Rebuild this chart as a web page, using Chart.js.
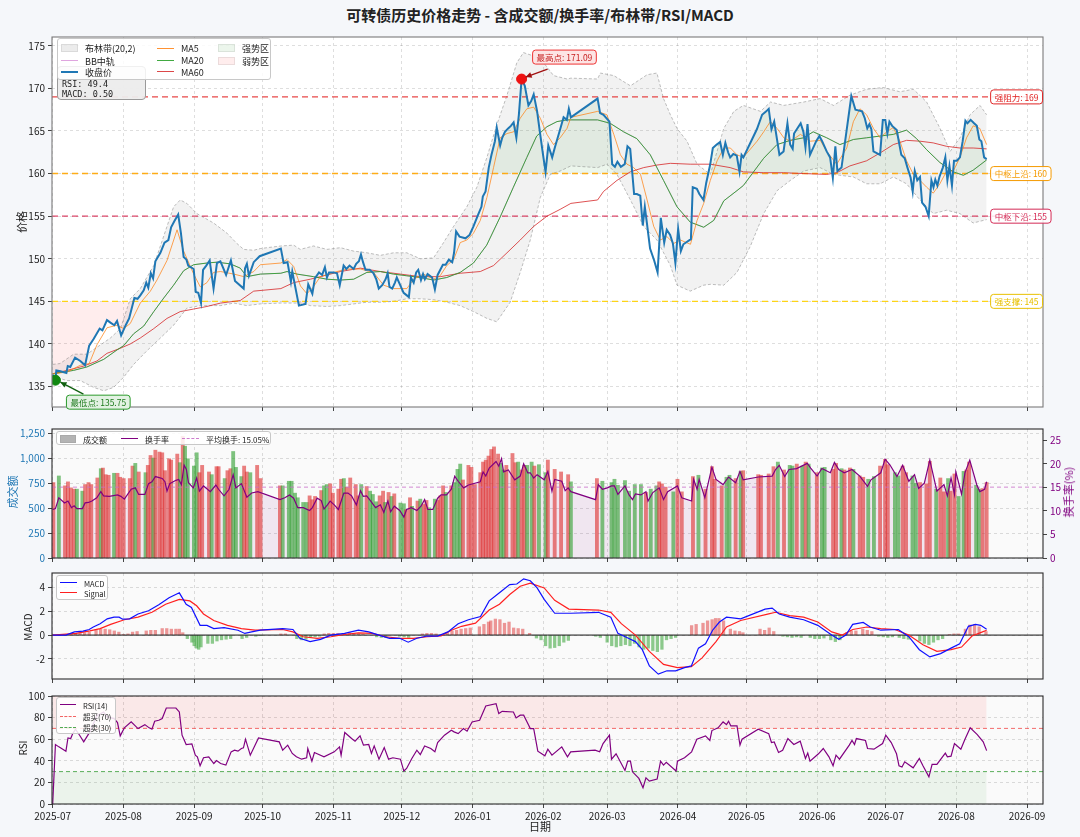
<!DOCTYPE html>
<html>
<head>
<meta charset="utf-8">
<title>可转债历史价格走势</title>
<script src="https://cdn.jsdelivr.net/npm/chart.js@4.4.1/dist/chart.umd.min.js"></script>
<style>
  html, body { margin: 0; padding: 0; background: #f5f7fa; }
  #page { position: relative; width: 1080px; height: 837px; overflow: hidden;
          font-family: "Noto Sans CJK SC", "DejaVu Sans", sans-serif; color: #222; }
  canvas.panel { position: absolute; left: 0; }
  .title { position: absolute; left: 0; top: 4px; width: 1080px; text-align: center;
           font-size: 15px; font-weight: bold; color: #222; }
  .ylab { position: absolute; font-size: 11px; white-space: nowrap;
          transform: translate(-50%, -50%) rotate(-90deg); }
  .xlab { position: absolute; font-size: 11px; transform: translate(-50%, -50%); }
  .legend { position: absolute; background: rgba(255,255,255,0.85); border: 1px solid #c8c8c8;
            border-radius: 3px; box-sizing: border-box; }
  .legend .sw { position: absolute; }
  .legend .tx { position: absolute; white-space: nowrap; transform: translateY(-50%); }
  .info { position: absolute; left: 57px; top: 66px; width: 89px; height: 34px; box-sizing: border-box;
          background: rgba(236,236,236,0.95); border: 1px solid #9a9a9a; border-radius: 4px;
          font-family: "DejaVu Sans Mono", monospace; font-size: 8.5px; line-height: 9.5px; padding: 13px 0 0 4px; }
</style>
</head>
<body>
<div id="page">
  <div class="title">可转债历史价格走势 - 含成交额/换手率/布林带/RSI/MACD</div>
  <canvas id="cPrice" class="panel" style="top:28px" width="1080" height="388"></canvas>
  <canvas id="cVol" class="panel" style="top:420px" width="1080" height="147"></canvas>
  <canvas id="cMacd" class="panel" style="top:564px" width="1080" height="124"></canvas>
  <canvas id="cRsi" class="panel" style="top:687px" width="1080" height="147"></canvas>
  <div class="ylab" style="left:21px;top:222px">价格</div>
  <div class="ylab" style="left:12px;top:492px;color:#1f77b4">成交额</div>
  <div class="ylab" style="left:1068px;top:492px;color:#800080">换手率(%)</div>
  <div class="ylab" style="left:27px;top:627px;font-size:10px">MACD</div>
  <div class="ylab" style="left:22px;top:748px;font-size:10px">RSI</div>
  <div class="xlab" style="left:540px;top:826px">日期</div>
  <div class="info" id="info"></div>
  <div class="legend" id="lgPrice" style="left:57px;top:38px;width:214px;height:42px;font-size:9px"></div>
  <div class="legend" id="lgVol" style="left:56px;top:431px;width:215px;height:14px;font-size:8px"></div>
  <div class="legend" id="lgMacd" style="left:56px;top:575px;width:52px;height:25px;font-size:7.5px"></div>
  <div class="legend" id="lgRsi" style="left:56px;top:697px;width:60px;height:37px;font-size:7.5px"></div>
</div>
<script>
// ---- axis (days counted from 2025-07-01) ----
const monthDays = [0, 31, 62, 92, 123, 153, 184, 215, 243, 274, 304, 335, 365, 396, 427];
const monthLabels = ['2025-07','2025-08','2025-09','2025-10','2025-11','2025-12','2026-01',
                     '2026-02','2026-03','2026-04','2026-05','2026-06','2026-07','2026-08','2026-09'];
const X_MIN = -0.3, X_MAX = 434;

// ---- price panel ----
const closeSeries = [
  [0,136.4],[1.2,135.75],[1.6,136.9],[3.4,136.8],[6.0,136.6],[6.6,137.4],[7.7,137.3],[9.8,138.4],[12.1,138.0],[14.2,137.5],
  [16.0,139.8],[18.0,140.6],[20.6,141.8],[21.8,141.6],[23.8,142.8],[25.3,142.5],[27.0,142.2],[28.2,142.7],[30.0,141.0],[32.0,142.2],
  [33.5,143.0],[35.8,145.4],[37.2,145.3],[38.4,145.7],[39.9,146.3],[41.0,147.2],[41.9,146.6],[43.0,148.3],[44.0,147.7],[45.0,149.7],
  [47.2,150.7],[49.0,151.9],[50.7,152.2],[51.9,153.7],[53.3,154.4],[55.0,155.2],[56.2,153.0],[57.4,150.2],[58.6,149.9],[59.4,149.2],
  [61.8,148.8],[62.7,146.1],[63.8,146.0],[65.0,144.8],[65.9,148.7],[67.3,149.2],[68.8,149.8],[70.5,146.5],[72.0,149.5],[73.5,149.7],
  [76.0,148.1],[78.1,149.8],[79.9,147.4],[83.7,146.5],[84.3,148.9],[85.1,149.4],[86.0,148.0],[87.2,148.9],[88.1,149.6],[90.7,150.3],
  [100.0,151.2],[101.2,149.5],[102.9,149.6],[104.4,147.3],[105.0,148.5],[107.9,144.5],[110.8,144.7],[112.0,147.0],[113.8,145.9],[114.9,147.7],
  [116.7,148.4],[118.1,148.1],[119.3,149.0],[120.2,147.8],[121.1,148.4],[123.1,148.4],[124.6,148.3],[125.8,146.9],[127.5,149.2],[128.7,148.8],
  [130.1,149.2],[131.9,148.8],[133.0,149.4],[134.2,149.7],[135.1,150.5],[136.0,149.6],[137.1,148.7],[138.9,148.7],[140.6,148.3],[141.8,147.6],
  [142.9,146.5],[144.4,146.9],[145.9,147.6],[146.8,148.3],[147.6,146.7],[148.8,146.5],[150.0,147.2],[150.8,147.8],[152.3,146.9],[153.8,146.0],
  [155.2,145.7],[156.1,145.5],[157.0,147.8],[158.2,147.2],[159.3,148.4],[160.2,148.7],[161.4,147.5],[162.3,148.2],[163.1,147.6],[164.3,148.2],
  [166.3,147.8],[167.5,146.4],[168.7,148.1],[171.0,149.3],[172.2,149.3],[173.6,149.9],[175.1,149.6],[175.9,150.7],[176.8,153.2],[178.3,152.6],
  [180.9,152.4],[182.7,152.8],[184.4,153.8],[186.5,155.2],[187.9,156.1],[188.5,157.3],[189.7,157.9],[191.1,160.7],[192.3,162.2],[193.8,163.8],
  [194.6,165.4],[196.1,163.3],[197.0,164.2],[198.2,164.9],[199.6,165.3],[200.8,165.6],[202.0,166.0],[203.2,164.2],[204.3,166.9],[205.5,171.09],
  [206.9,170.3],[208.5,168.0],[209.7,168.5],[210.8,169.3],[212.3,167.3],[213.4,165.1],[214.9,162.2],[216.0,160.2],[217.2,163.3],[218.9,161.9],
  [220.1,163.1],[222.4,165.2],[223.9,166.6],[225.3,166.3],[226.2,167.6],[227.1,166.6],[238.8,168.8],[239.9,167.1],[241.4,166.9],[244.0,166.1],
  [245.2,161.1],[246.4,160.8],[247.5,161.4],[249.0,160.8],[250.7,161.1],[251.9,163.2],[253.1,162.9],[254.8,157.6],[256.0,157.6],[257.5,157.4],
  [258.6,153.9],[259.5,156.1],[260.4,154.2],[261.8,151.2],[263.6,149.8],[265.1,148.4],[266.5,154.8],[268.0,151.9],[269.1,153.4],[270.6,152.8],
  [271.8,151.8],[272.9,149.5],[274.1,153.5],[275.3,150.9],[276.4,151.7],[279.7,152.3],[280.5,158.4],[282.3,158.2],[283.4,157.6],[285.2,156.9],
  [286.4,158.9],[288.1,161.0],[289.3,163.0],[291.0,163.4],[292.5,163.7],[293.7,162.2],[294.8,163.6],[296.0,162.5],[296.9,161.9],[298.3,162.3],
  [299.8,162.1],[301.0,160.2],[301.9,162.2],[302.7,161.9],[308.6,165.2],[310.9,166.9],[312.7,167.3],[313.8,167.6],[315.0,165.2],[316.2,166.1],
  [318.5,162.2],[320.3,162.6],[322.0,165.9],[323.2,163.4],[324.3,162.9],[324.9,164.7],[327.8,165.9],[329.0,164.9],[329.9,163.1],[330.8,165.8],
  [331.9,162.2],[334.6,163.8],[336.0,164.4],[337.2,163.8],[339.2,162.6],[340.7,161.9],[341.9,159.5],[343.0,163.2],[343.9,160.3],[345.7,160.7],
  [350.0,169.1],[351.8,167.5],[354.7,167.3],[355.9,166.5],[357.0,165.3],[357.9,165.8],[358.8,165.2],[359.7,162.6],[362.6,162.2],[363.8,166.3],
  [364.9,166.3],[365.8,164.7],[366.7,166.1],[367.9,165.6],[369.9,165.1],[370.8,163.8],[371.9,162.2],[373.4,161.8],[374.6,160.7],[376.0,159.5],
  [376.9,157.9],[377.8,160.3],[378.9,159.2],[380.1,159.6],[381.0,156.6],[382.5,156.1],[383.9,155.0],[385.1,159.2],[386.0,158.4],[386.8,159.3],
  [387.7,158.6],[388.6,159.6],[390.1,160.7],[391.2,161.9],[392.1,159.2],[393.0,160.9],[394.1,158.6],[395.0,161.5],[396.2,161.5],[397.6,161.9],
  [398.8,163.8],[400.0,166.2],[400.9,165.9],[402.3,166.3],[403.8,165.9],[405.0,165.6],[406.1,164.0],[407.0,163.8],[408.2,161.9],[409.3,161.7]
];
const ma5Series = [
  [0,136.5],[6.3,136.7],[12.1,137.5],[16,137.7],[19.4,139.9],[23.8,141.9],[28.2,142.2],[31.1,141.8],[34,142.4],[38.4,144.8],
  [42.8,146.2],[45.7,147.5],[50.1,149.8],[54.5,153.4],[57.4,150.9],[61.8,148.2],[64.7,146.7],[67.6,147.2],[70.5,148.4],[73.6,148.5],
  [79.4,148.2],[83.8,147.9],[88.1,148.5],[91,149.3],[100,149.5],[102.7,149.9],[105.6,149.1],[108.6,146.8],[111.4,145.9],[114,146.6],
  [117.3,147.9],[123.1,148.4],[129,148.8],[134.8,148.8],[140.6,148.4],[145,146.9],[149.4,146.5],[155.2,146.5],[158.2,147.6],[162.5,148.2],
  [166.9,147.6],[169.8,148.0],[172.7,149.2],[175.7,149.9],[178.6,151.9],[181.5,152.2],[184.4,153.0],[187.4,154.5],[190.3,157.2],[193.2,160.7],
  [196.1,164.2],[199.1,164.7],[202,164.9],[204.9,166.5],[207.8,167.6],[210.8,167.8],[213.7,166.5],[216.6,164.6],[219.5,163.4],[222.4,164.2],
  [225.4,165.3],[227.1,166.6],[238.8,167.3],[242.9,166.9],[245.9,164.6],[248.8,162.2],[251.7,161.1],[254.6,160.7],[257.6,159.9],[260.5,156.9],
  [263.4,153.8],[266.3,152.2],[269.2,152.6],[272.2,151.8],[275.1,152.2],[279.5,151.7],[282.4,154.5],[285.3,156.5],[288.2,159.2],[291.2,161.5],
  [294.1,163.0],[297,163.0],[299.9,162.2],[302.7,161.9],[308.7,163.8],[311.6,164.9],[314.5,166.1],[317.5,165.3],[320.4,164.2],[323.3,163.8],
  [327.7,164.6],[332.1,163.8],[336.4,163.9],[339.2,162.6],[343.6,161.1],[348,163.0],[350.9,166.1],[353.8,167.6],[356.7,166.9],[359.7,165.3],
  [362.6,164.2],[365.5,164.9],[368.4,165.4],[371.3,163.8],[374.2,161.5],[377.2,159.9],[380.1,159.2],[383,158.4],[385.9,157.7],[388.8,158.8],
  [391.8,160.3],[394.7,160.3],[397.6,161.9],[400.5,164.2],[403.4,165.6],[406.3,165.3],[409.3,163.4]
];
const ma20Series = [
  [0,136.5],[9.2,136.9],[15,137.3],[22.4,138.2],[28.2,139.3],[31.1,139.8],[35.5,141.2],[39.9,142.1],[44.3,143.8],[48.7,145.4],
  [53,146.9],[57.4,148.6],[61.8,149.3],[67.6,149.5],[72,149.6],[77.8,149.4],[82.2,148.9],[85.1,147.9],[91,148.2],[100,148.3],
  [102.7,148.5],[107.1,148.2],[114.3,147.9],[120.2,147.6],[126.1,147.5],[131.9,147.6],[137.7,148.4],[143.6,148.5],[149.4,148.2],[155.2,148.0],
  [161.1,147.8],[166.9,147.5],[172.7,147.8],[178.6,148.4],[184.4,149.5],[190.2,151.6],[196.1,154.9],[201.9,158.4],[207.8,161.9],[212.1,164.4],
  [216.6,165.5],[221,166.1],[225.3,166.3],[227.1,166.3],[238.8,166.3],[244.3,165.9],[250.2,164.9],[256,164.1],[261.9,162.2],[267.7,159.2],
  [273.6,156.1],[279.4,154.3],[285.3,153.7],[289.7,154.5],[294.1,156.8],[299.9,158.0],[302.7,158.6],[311.6,161.8],[317.4,163.4],[323.3,163.9],
  [329.1,164.2],[333.3,164.9],[339.2,164.2],[345,163.4],[350.9,164.0],[356.7,164.2],[362.5,164.4],[368.4,164.6],[374.2,165.1],[378.6,164.1],
  [383,162.8],[388.8,161.3],[394.7,160.2],[399.1,159.8],[403.4,160.4],[409.3,161.6]
];
const ma60Series = [
  [0,136.5],[6.3,136.9],[13.6,137.4],[19.4,138.0],[23.8,138.9],[29.7,139.5],[34,140.0],[38.4,140.7],[44.3,141.8],[50.1,143.0],
  [55.9,143.8],[61.8,144.1],[67.6,144.4],[73.6,144.8],[82.2,145.1],[88.1,146.2],[100,146.5],[105.6,147.2],[112.9,147.6],[117.3,147.9],
  [126.1,148.5],[134.8,148.9],[143.6,148.5],[152.4,148.2],[161.1,147.9],[169.9,147.9],[178.6,148.3],[187.4,148.5],[193.2,149.2],[199.1,150.7],
  [204.9,152.2],[210.8,153.8],[216.6,155.0],[222.4,155.8],[227.1,156.5],[238.8,156.9],[241.4,157.9],[247.3,159.2],[253.1,160.2],[259,160.7],
  [264.8,161.0],[270.7,161.2],[279.4,161.1],[288.2,161.1],[296.9,160.7],[302.7,160.2],[311.6,160.1],[320.3,160.1],[329.1,160.0],[339.2,159.9],
  [343.6,160.1],[349.4,160.9],[356.7,161.5],[362.5,162.4],[368.4,163.4],[374.2,163.9],[380.1,163.8],[385.9,163.6],[391.7,163.2],[397.6,163.0],
  [403.4,163.0],[409.3,162.9]
];
const bollUpperSeries = [
  [0,137.6],[3.2,137.7],[9.2,138.8],[15,138.8],[21,139.9],[25.3,140.7],[29.7,141.8],[34,145.3],[38.4,146.5],[44.3,149.2],
  [50.1,153.8],[53,156.1],[55.9,156.9],[58.8,156.5],[63.2,155.3],[70.5,154.2],[76.4,153.0],[80.7,151.8],[83.7,151.1],[88.1,151.0],
  [91,151.2],[100,151.5],[105.6,151.6],[108.5,151.1],[114.3,151.5],[120.2,151.1],[126.1,151.3],[131.9,150.9],[137.7,150.7],[143.6,150.4],
  [149.4,150.7],[155.2,150.7],[161.1,150.0],[166.9,150.1],[171.3,151.9],[175.7,153.8],[181.5,156.1],[185.9,158.4],[190.3,161.9],[194.6,165.7],
  [199.1,169.2],[203.4,173.0],[206.3,174.2],[210.8,173.8],[215.2,173.0],[219.5,171.5],[225.4,171.1],[227.1,171.2],[238.8,171.1],[240,171.8],
  [245.9,171.5],[253.2,170.3],[260.5,171.6],[264.8,171.8],[267.7,168.8],[270.7,166.9],[273.6,165.3],[278,163.8],[282.4,161.1],[288.2,159.9],
  [294.1,165.3],[298.5,167.3],[302.7,168.0],[310.2,167.3],[314.6,168.4],[320.4,168.0],[329.2,168.4],[336.3,168.8],[342.2,168.0],[349.4,169.2],
  [356.7,169.9],[364,170.1],[371.3,169.6],[377.2,169.9],[383,168.4],[388.9,165.3],[393.3,162.6],[397.6,164.2],[402,166.9],[406.4,168.0],
  [409.3,166.9]
];
const bollLowerSeries = [
  [0,136.2],[6.3,135.7],[12.1,135.7],[18,134.9],[22.4,134.5],[26.7,134.9],[31.1,136.1],[35.5,137.6],[41.3,139.2],[47.2,140.7],
  [53,142.2],[58.8,144.2],[64.7,144.5],[73.6,144.5],[79.4,144.8],[85.1,144.5],[91,144.7],[100,144.8],[108.6,144.8],[112.9,144.5],
  [120.2,144.4],[126.1,144.5],[131.9,144.7],[137.7,144.9],[143.6,144.9],[149.4,145.0],[155.2,145.3],[161.1,145.3],[166.9,145.2],[172.7,144.9],
  [178.6,144.5],[184.4,143.8],[190.3,143.0],[194.6,142.6],[200.5,144.9],[204.9,148.4],[209.3,152.2],[213.7,157.2],[218.1,159.9],[222.4,160.3],
  [227.1,160.9],[238.8,160.7],[242.9,161.1],[247.3,159.9],[253.2,156.9],[259,153.8],[264.8,152.2],[270.7,149.2],[273.6,146.9],[279.4,146.2],
  [285.3,146.9],[288.2,147.0],[294.1,146.9],[299.9,148.4],[305.8,151.5],[311.6,155.3],[317.5,158.0],[323.3,159.2],[329.2,160.3],[336.3,160.7],
  [342.2,159.9],[350.9,159.6],[356.7,158.8],[362.6,158.8],[368.4,159.6],[374.2,158.8],[380.1,156.9],[385.9,155.3],[391.8,155.7],[397.6,155.3],
  [403.4,154.2],[409.3,154.6]
];
const levels = [
  { name: '强阻力', value: 169, line: 'rgba(228,40,40,0.85)', text: '#e02424' },
  { name: '中枢上沿', value: 160, line: 'rgba(255,165,0,0.9)', text: '#f59a00' },
  { name: '中枢下沿', value: 155, line: 'rgba(214,40,80,0.85)', text: '#d42a55' },
  { name: '强支撑', value: 145, line: 'rgba(255,210,0,0.9)', text: '#e8c000' }
];
const STRONG_LEVEL = 160, WEAK_LEVEL = 145;

// ---- volume / turnover panel: [day, amount, up(1)/down(0)] ----
const volumeBars = [
  [0.3,755,1],[2.7,821,0],[5.4,722,1],[6.7,762,1],[8.0,702,1],[9.4,689,1],[10.6,689,0],[13.0,669,0],[14.2,735,1],[15.7,755,1],
  [16.9,735,1],[19.6,801,1],[21.1,894,0],[22.0,900,1],[23.2,834,1],[24.5,828,1],[26.9,848,0],[28.4,848,1],[29.6,808,1],[31.1,795,1],
  [33.8,795,1],[35.0,920,1],[36.2,947,0],[37.7,861,1],[40.7,854,0],[41.7,927,1],[42.9,1026,1],[44.1,1000,0],[45.0,1079,1],[46.8,1060,1],
  [48.0,1053,1],[49.2,874,1],[51.0,993,1],[51.9,980,1],[54.6,1040,1],[55.8,954,0],[57.0,1218,1],[58.0,1119,0],[59.2,993,0],[61.9,920,0],
  [63.1,1053,0],[64.3,854,1],[65.5,927,1],[68.5,861,1],[69.7,834,0],[71.8,914,1],[72.7,914,1],[75.4,795,0],[76.6,874,1],[77.9,894,1],
  [79.1,1066,0],[80.3,907,0],[82.7,815,0],[83.9,920,1],[85.1,861,1],[86.6,854,0],[89.6,927,1],[91.1,795,1],
  [99.6,722,1],[100.8,722,0],[103.5,768,0],[104.7,768,0],[106.2,649,0],[107.4,603,0],[109.8,556,0],[111.3,556,0],[112.6,622,1],[113.8,583,1],
  [115.0,616,1],[117.7,675,1],[118.9,722,0],[120.1,735,0],[121.6,742,1],[122.8,649,1],[125.2,689,1],[126.4,788,1],[127.6,795,0],[128.8,709,1],
  [130.4,801,1],[132.8,735,1],[134.0,622,1],[135.2,735,0],[137.6,715,1],[139.1,669,0],[140.3,636,0],[141.8,563,0],[143.3,622,1],[144.8,669,1],
  [145.7,556,0],[147.2,656,1],[148.5,616,0],[149.7,642,1],[152.4,550,0],[153.9,543,0],[154.8,483,1],[156.6,603,1],[157.5,517,0],[159.9,570,1],
  [161.1,589,0],[162.6,536,1],[163.8,576,1],[165.0,503,0],[167.5,589,0],[168.7,576,1],[169.9,622,1],[171.1,722,1],[172.3,656,0],[174.7,722,1],
  [175.9,755,0],[177.4,887,0],[178.6,940,0],[179.8,781,1],[182.2,927,1],[183.5,907,1],[185.0,735,1],[187.4,854,1],[188.6,960,1],[189.8,980,1],
  [191.0,1020,1],[192.2,1086,1],[193.4,1112,1],[195.2,1040,1],[196.4,947,0],[197.6,881,0],[198.8,927,1],[201.5,1046,1],[202.8,954,1],[204.0,960,0],
  [205.5,881,1],[206.7,927,1],[207.9,927,0],[209.9,960,0],[211.1,920,1],[213.1,934,0],[216.0,854,0],[217.0,980,1],[220.0,887,1],[222.8,861,1],
  [225.9,834,1],[227.1,762,0],
  [238.5,795,1],[240.9,768,0],[244.9,755,0],[246.2,788,0],[247.7,728,0],[250.8,775,0],[252.6,669,0],[255.1,735,0],[257.8,735,0],[260.0,656,1],
  [262.1,689,0],[264.6,722,0],[265.8,762,1],[267.0,742,1],[268.6,709,1],[272.0,662,0],[273.8,788,1],[275.7,662,1],[280.6,815,1],[283.0,828,0],
  [286.1,689,1],[288.9,914,1],[290.1,788,1],[293.2,722,1],[295.3,808,0],[296.6,828,0],[299.3,795,1],[301.5,867,0],[302.6,874,1],
  [309.2,834,1],[310.4,828,1],[313.8,841,1],[315.9,914,1],[317.8,960,0],[320.5,881,1],[323.0,927,0],[324.2,920,0],[326.1,940,1],[328.5,920,0],
  [330.0,960,1],[331.3,940,0],[334.9,854,1],[337.1,901,0],[338.3,907,0],[342.0,887,1],[343.3,947,1],[345.7,894,0],[347.0,881,1],[349.4,901,1],
  [350.9,887,0],[353.7,821,1],[355.2,808,1],[357.4,788,0],[359.9,815,0],[362.6,920,1],[364.8,987,1],[366.0,934,1],[369.1,854,0],[370.6,821,0],
  [372.5,920,1],[374.0,854,1],[376.8,821,0],[378.3,748,0],[380.1,755,1],[382.9,742,1],[384.4,967,1],[387.2,689,0],[389.0,801,1],[390.6,662,1],
  [392.4,795,0],[393.4,669,1],[395.2,841,1],[397.0,616,0],[399.2,867,0],[400.4,881,1],[401.6,960,1],[404.7,728,0],[405.9,689,0],[407.5,695,1],
  [409.3,755,1]
];
const turnoverSeries = [
  [0.0,10.3],[1.2,10.5],[2.7,12.8],[5.2,11.7],[6.7,12.1],[8.2,10.7],[9.4,11.1],[10.6,10.5],[13.0,10.5],[14.2,11.7],
  [15.7,11.8],[17.2,12.1],[19.3,12.8],[21.1,14.1],[22.3,13.2],[24.8,13.1],[28.4,13.4],[29.9,13.1],[31.4,12.5],[34.4,14.6],
  [36.2,14.9],[37.7,13.5],[40.4,13.5],[42.0,15.8],[43.5,16.2],[45.0,17.3],[48.0,16.9],[49.2,16.2],[50.1,14.2],[51.3,15.8],
  [54.0,16.5],[55.2,16.7],[56.4,15.6],[57.6,19.7],[58.6,18.8],[59.5,16.0],[61.6,14.9],[63.1,17.0],[64.3,14.2],[66.1,15.3],
  [69.1,14.1],[71.5,15.5],[72.7,14.6],[75.1,13.2],[77.3,14.6],[79.1,17.7],[80.3,14.9],[82.7,15.8],[85.1,12.9],[87.2,13.8],
  [89.9,14.1],[99.6,12.4],[101.7,12.8],[103.8,13.4],[105.6,12.7],[107.4,10.7],[109.8,10.7],[112.6,10.1],[113.8,10.7],[115.9,12.7],
  [117.7,12.2],[118.9,10.4],[120.4,11.3],[121.6,12.1],[123.4,11.3],[125.2,10.3],[127.6,13.8],[129.4,13.8],[131.0,13.2],[133.1,11.3],
  [134.9,14.3],[136.1,13.1],[137.6,13.2],[139.4,12.1],[141.5,10.7],[143.6,11.3],[145.1,9.7],[146.9,12.1],[148.1,9.8],[149.7,11.0],
  [152.1,10.1],[153.9,8.7],[155.1,10.3],[157.2,10.7],[159.6,10.1],[161.4,11.0],[163.0,12.4],[164.4,10.3],[166.6,10.3],[168.7,12.7],
  [170.2,13.4],[172.6,13.4],[174.7,14.6],[176.2,17.4],[177.7,16.3],[180.1,14.9],[182.2,15.5],[187.4,16.2],[188.6,18.3],[189.8,17.4],
  [191.3,19.1],[194.3,20.5],[195.5,19.5],[196.7,21.1],[197.6,18.3],[199.7,18.7],[202.5,16.6],[204.9,17.4],[206.4,20.0],[208.2,18.1],
  [209.3,18.1],[210.8,17.0],[212.3,17.7],[215.4,16.6],[217.0,18.4],[218.8,14.2],[220.0,16.7],[223.1,16.3],[224.6,14.3],[225.9,14.9],
  [227.1,14.1],[237.9,12.4],[239.1,15.6],[240.9,14.6],[243.1,14.9],[244.9,15.3],[246.2,15.3],[247.7,13.5],[250.8,15.3],[252.6,13.4],
  [254.1,12.4],[255.4,13.6],[257.8,13.4],[260.0,14.1],[260.9,12.1],[263.0,13.9],[265.8,14.9],[267.7,12.4],[269.5,14.1],[273.8,15.3],
  [275.7,12.8],[280.0,12.1],[280.9,16.7],[282.4,14.6],[283.3,16.7],[285.8,12.8],[288.9,19.3],[290.7,16.7],[293.8,15.6],[296.2,17.2],
  [299.3,16.0],[301.2,18.4],[302.6,16.6],[309.2,17.2],[315.3,17.4],[316.8,18.8],[318.4,19.7],[320.8,17.3],[322.7,18.8],[326.0,19.0],
  [330.7,20.1],[332.2,19.1],[335.0,17.4],[337.1,19.0],[340.8,18.1],[342.6,20.3],[344.5,18.8],[346.9,18.1],[350.3,18.8],[353.7,17.4],
  [357.1,15.2],[358.6,16.6],[362.9,18.1],[364.8,21.0],[366.9,19.8],[370.0,17.3],[372.5,19.7],[375.2,16.3],[377.7,17.7],[379.5,14.8],
  [382.0,15.9],[384.4,20.8],[387.5,14.2],[390.6,15.6],[392.1,13.2],[393.7,17.0],[395.2,13.5],[395.8,18.3],[398.3,13.6],[399.8,18.1],
  [401.9,20.8],[405.0,15.5],[406.3,14.1],[408.4,14.6],[409.3,16.2]
];
const avgTurnover = 15.05;

// ---- MACD panel ----
const macdSeries = [
  [0,0],[5.8,0],[9.5,0.27],[13.3,0.33],[16.0,0.47],[17.8,0.68],[20.8,0.96],[23.9,1.37],[26.9,1.51],[29.1,1.51],
  [30.6,1.34],[33.7,1.37],[37.4,1.78],[42.0,2.05],[46.5,2.55],[51.0,3.15],[55.5,3.56],[58.5,2.60],[60.8,2.33],[64.6,0.82],
  [67.6,0.82],[70.6,0.55],[75.1,0.63],[81.2,0.41],[84.2,0.14],[87.2,0.27],[91.0,0.41],[100.8,0.55],[105.3,0.47],[108.3,-0.27],
  [112.8,-0.55],[117.4,-0.36],[121.9,0],[127.9,0.14],[134.0,0.41],[138.5,0.27],[143.0,0],[147.6,-0.27],[152.1,-0.27],[155.8,-0.60],
  [159.6,-0.27],[164.1,-0.08],[168.7,-0.08],[173.2,0.27],[177.7,0.96],[182.2,1.29],[187.5,1.56],[191.3,2.88],[195.8,3.56],[200.3,4.25],
  [203.4,4.30],[206.4,4.74],[209.3,4.58],[212.3,3.97],[215.4,3.01],[220.0,1.84],[224.6,1.84],[227.1,1.84],[239.2,1.92],[244.6,1.51],
  [247.7,0.14],[252.3,-0.27],[255.4,-0.55],[258.4,-1.23],[261.5,-2.60],[265.4,-3.29],[269.2,-3.01],[273.0,-3.01],[276.9,-2.74],[279.9,-2.60],
  [283.0,-1.10],[286.1,-0.74],[289.2,0.41],[292.2,1.10],[295.3,1.51],[301.5,1.37],[312.2,2.19],[315.3,2.27],[318.4,1.78],[323.0,1.51],
  [329.1,1.29],[335.3,0.82],[341.4,0],[344.5,-0.36],[347.6,0],[350.6,0.90],[355.2,1.07],[358.3,0.68],[362.9,0.41],[370.6,0.47],
  [375.2,-0.14],[379.8,-1.23],[384.4,-1.84],[389.1,-1.56],[393.7,-1.10],[397.5,-0.74],[401.3,0.74],[404.4,0.90],[406.7,0.82],[409.3,0.50]
];
const signalSeries = [
  [0,0],[10.3,0.14],[16.3,0.36],[20.8,0.55],[25.4,0.90],[31.4,1.29],[37.4,1.51],[43.5,1.92],[49.5,2.60],[55.5,3.01],
  [60.1,2.88],[63.1,2.47],[66.1,1.78],[70.6,1.23],[76.6,0.82],[82.7,0.55],[88.7,0.41],[100.8,0.47],[105.3,0.27],[109.8,-0.14],
  [115.9,-0.27],[121.9,-0.14],[127.9,0.05],[134.0,0.19],[140.0,0.14],[146.0,-0.14],[152.1,-0.27],[158.1,-0.27],[164.1,-0.14],[170.2,-0.08],
  [174.7,0.41],[179.2,0.74],[185.3,1.01],[191.3,2.11],[195.8,2.60],[200.3,3.42],[204.9,4.11],[209.3,4.38],[215.4,3.97],[220.0,2.93],
  [226.2,2.19],[239.2,2.11],[244.6,1.92],[249.2,0.96],[255.4,0],[261.5,-1.37],[267.7,-2.47],[273.8,-2.74],[279.9,-2.66],[284.6,-1.92],
  [290.7,-0.55],[295.3,0.68],[301.5,1.23],[313.8,1.78],[316.8,1.92],[323.0,1.64],[329.1,1.51],[335.3,1.10],[341.4,0.27],[346.0,0],
  [350.6,0.47],[356.8,0.68],[362.9,0.55],[369.1,0.47],[375.2,0],[381.4,-0.82],[387.5,-1.37],[393.7,-1.23],[398.3,-1.01],[402.9,-0.08],
  [407.5,0.27],[409.3,0.41]
];
const histSeries = [
  [8,0.1],[10,0.15],[12,0.2],[14,0.2],[16,0.25],[19,0.45],[21,0.5],[23,0.5],[25,0.45],[27,0.35],[29,0.25],[31,0.05],[33,0.1],[35,0.25],
  [37,0.3],[41,0.35],[43,0.4],[45,0.4],[48,0.55],[50,0.55],[52,0.5],[54,0.5],[55.5,0.5],[57,0.2],[59,-0.3],[61,-0.6],[62,-0.9],[63,-1.1],
  [64,-1.2],[65,-1.0],[68,-0.7],[70,-0.7],[72,-0.5],[74,-0.4],[76,-0.35],[78,-0.3],[83,-0.3],[85,-0.2],[89,-0.1],[91,-0.05],[100,0.1],[102,0.1],
  [107,-0.3],[109,-0.4],[111,-0.35],[113,-0.2],[115,-0.15],[117,-0.1],[119,0.1],[121,0.15],[123,0.15],[125,0.15],[128,0.15],[130,0.2],[132,0.1],
  [134,0.1],[136,0.05],[142,-0.15],[144,-0.2],[146,-0.2],[152,-0.1],[154,-0.15],[156,-0.2],[162,0.1],[164,0.15],[166,0.15],[168,0.1],[173,0.2],
  [175,0.35],[177,0.4],[179,0.5],[181,0.55],[183,0.6],[187,0.7],[189,0.9],[191,1.1],[192,1.2],[194,1.35],[196,1.3],[198,1.0],[200,1.1],[202,0.6],
  [204,0.55],[206,0.5],[209,0.15],[212,-0.25],[214,-0.4],[216,-0.9],[218,-1.1],[220,-1.05],[222,-0.9],[224,-0.6],[226,-0.45],[238,-0.1],[240,-0.2],
  [243,-0.6],[245,-0.9],[247,-1.0],[249,-0.9],[251,-0.8],[253,-0.9],[255,-0.7],[257,-1.0],[259,-1.2],[261,-1.1],[263,-1.3],[265,-1.4],[267,-1.2],
  [269,-0.4],[271,-0.3],[273,-0.2],[280,0.8],[282,0.9],[285,1.0],[287,1.2],[289,1.3],[290.5,1.4],[292,1.4],[294,1.2],[297,0.5],[299,0.35],[301,0.3],
  [302.5,0.2],[310,0.5],[312,0.4],[314,0.6],[316,0.3],[320,-0.1],[322,-0.15],[324,-0.2],[326,-0.15],[328,-0.2],[332,-0.2],[334,-0.3],[336,-0.3],
  [338,-0.25],[341,-0.4],[343,-0.55],[345,-0.4],[348,0.2],[350,0.35],[352,0.35],[355,0.5],[357,0.4],[359,0.3],[362,-0.1],[364,-0.15],[366,-0.2],
  [368,-0.15],[371,-0.2],[373,-0.3],[375,-0.35],[380,-0.5],[382,-0.7],[384,-0.8],[386,-0.6],[388,-0.4],[390,-0.3],[393,0.05],[395,0.1],[397,0.1],
  [400,0.5],[402,0.85],[404,0.9],[406,0.7],[409,0.3]
];

// ---- RSI panel ----
const rsiSeries = [
  [0.0,0],[1.2,55.1],[2.7,52.9],[5.8,48.9],[6.7,61.2],[7.9,60.6],[8.8,65.2],[10.0,69.2],[11.8,63.7],[13.6,57.5],
  [16.3,66.8],[19.3,81.5],[22.3,85.2],[23.9,80.6],[26.9,79.1],[28.4,75.4],[29.6,63.1],[31.4,70.5],[34.4,76.0],[37.4,69.8],
  [40.4,73.5],[42.3,70.5],[43.5,69.2],[44.7,76.6],[46.5,77.5],[48.0,79.1],[49.8,88.9],[54.0,88.9],[55.5,85.2],[56.7,63.7],
  [58.5,55.1],[61.0,55.7],[62.5,45.2],[63.4,43.7],[64.6,35.4],[66.1,42.8],[68.4,43.7],[70.6,37.5],[71.8,40.3],[73.6,37.5],
  [75.9,36.0],[78.2,48.3],[79.7,49.8],[81.2,48.9],[82.7,51.4],[83.6,52.0],[84.5,60.0],[86.6,45.2],[90.2,61.2],[99.3,57.5],
  [100.8,49.8],[103.0,54.5],[105.0,46.8],[106.8,43.7],[109.1,41.5],[111.3,42.8],[111.8,51.4],[113.6,39.7],[114.7,47.7],[118.9,43.7],
  [123.4,48.3],[125.7,52.9],[126.4,45.2],[128.0,66.2],[131.0,60.6],[132.5,58.2],[134.7,63.1],[136.2,54.5],[138.5,55.1],[139.7,46.8],
  [140.9,53.8],[143.0,41.5],[145.3,52.3],[147.2,41.5],[149.1,42.8],[152.4,41.5],[153.9,30.5],[155.1,32.9],[157.4,42.2],[159.6,49.8],
  [161.1,45.8],[163.0,53.8],[165.7,51.4],[167.5,48.3],[168.7,56.9],[171.7,63.7],[174.7,68.3],[175.9,66.8],[177.7,65.2],[180.0,69.8],
  [181.6,67.4],[183.8,76.0],[187.1,77.5],[189.8,90.8],[194.3,92.9],[195.5,83.7],[197.0,85.8],[201.9,85.2],[203.1,79.7],[204.9,82.2],
  [206.4,82.2],[208.6,72.9],[209.3,69.8],[210.8,69.8],[212.6,48.9],[215.7,44.6],[217.0,50.8],[218.8,45.2],[223.1,52.9],[225.6,43.7],
  [227.0,48.3],[237.7,49.8],[239.7,48.3],[241.2,56.0],[244.0,63.7],[244.9,41.5],[246.9,46.5],[250.8,31.1],[252.0,39.7],[253.2,39.7],
  [254.1,29.8],[256.9,23.7],[258.7,15.1],[260.0,24.3],[261.5,21.2],[264.9,23.1],[266.4,39.7],[267.7,36.0],[268.9,38.5],[273.2,30.5],
  [273.8,39.7],[276.9,42.8],[280.0,48.3],[282.3,60.0],[286.1,63.1],[288.0,58.8],[288.9,68.0],[291.6,70.5],[293.8,76.0],[295.3,73.5],
  [296.2,76.6],[297.2,72.3],[299.9,72.3],[301.2,54.5],[302.1,60.0],[309.2,69.2],[313.8,65.2],[315.0,56.9],[316.2,57.5],[318.1,47.7],
  [319.9,49.8],[322.2,60.6],[324.8,55.1],[327.6,58.2],[329.9,42.2],[330.9,47.1],[331.9,39.7],[335.6,46.5],[337.7,51.4],[340.2,43.7],
  [342.0,35.4],[343.3,45.2],[344.8,41.5],[349.1,54.5],[350.3,58.8],[351.4,55.1],[352.2,60.6],[356.2,58.8],[357.1,51.4],[359.9,50.8],
  [363.7,56.0],[365.1,63.7],[367.5,56.9],[369.8,46.5],[370.9,35.4],[372.2,34.2],[373.4,39.1],[377.1,33.5],[379.8,42.2],[381.4,35.4],
  [384.0,25.2],[385.4,36.6],[387.5,36.6],[391.2,47.1],[392.1,43.7],[393.7,44.3],[395.2,56.0],[398.0,50.8],[399.8,60.0],[402.1,70.5],
  [405.2,64.3],[407.8,57.5],[409.3,49.4]
];
const OVERBOUGHT = 70, OVERSOLD = 30;

// ---------------------------------------------------------------
const FONT = '"Noto Sans CJK SC", "DejaVu Sans", sans-serif';
Chart.defaults.font.family = FONT;
Chart.defaults.font.size = 10;
Chart.defaults.color = '#222';

const pts = arr => arr.map(p => ({ x: p[0], y: p[1] }));
const flat = v => [{ x: X_MIN, y: v }, { x: X_MAX, y: v }];
const lastDay = closeSeries[closeSeries.length - 1][0];

const GRID = 'rgba(0,0,0,0.13)';
function xAxis(withLabels) {
  return {
    type: 'linear', min: X_MIN, max: X_MAX, offset: false,
    afterBuildTicks: s => { s.ticks = monthDays.map(v => ({ value: v })); },
    afterFit: s => { s.height = withLabels ? 30 : 6; },
    ticks: { display: withLabels, autoSkip: false, maxRotation: 0, padding: 2, font: { size: 10 }, color: '#222',
             callback: v => monthLabels[monthDays.indexOf(v)] },
    grid: { color: GRID, tickLength: 4, tickColor: '#444', offset: false },
    border: { display: false, dash: [3, 3] }
  };
}
function yAxis(min, max, tickVals, extra) {
  return Object.assign({
    type: 'linear', min, max, position: 'left',
    afterBuildTicks: s => { s.ticks = tickVals.map(v => ({ value: v })); },
    afterFit: s => { s.width = 52; },
    ticks: { padding: 3, font: { size: 10 }, color: '#222' },
    grid: { color: GRID, tickLength: 4, tickColor: '#444' },
    border: { display: false, dash: [3, 3] }
  }, extra || {});
}
const baseOptions = (padRight, scales, bg, frame) => ({
  responsive: false, animation: false, events: [],
  layout: { autoPadding: false, padding: { top: 6, right: padRight, left: 0, bottom: 0 } },
  plugins: { legend: { display: false }, tooltip: { enabled: false }, panelFrame: { bg, frame } },
  elements: { point: { radius: 0 }, line: { tension: 0 } },
  scales
});

const panelFrame = {
  id: 'panelFrame',
  beforeDraw(chart, args, opts) {
    const { ctx, chartArea: a } = chart;
    ctx.save();
    ctx.fillStyle = opts.bg;
    ctx.fillRect(a.left, a.top, a.right - a.left, a.bottom - a.top);
    ctx.restore();
  },
  afterDatasetsDraw(chart, args, opts) {
    const { ctx, chartArea: a } = chart;
    ctx.save();
    ctx.strokeStyle = opts.frame || '#2a2a2a';
    ctx.lineWidth = 1.1;
    ctx.strokeRect(a.left, a.top, a.right - a.left, a.bottom - a.top);
    ctx.restore();
  }
};

function roundBox(ctx, x, y, w, h, r, fill, stroke) {
  ctx.beginPath();
  if (ctx.roundRect) ctx.roundRect(x, y, w, h, r); else ctx.rect(x, y, w, h);
  ctx.fillStyle = fill; ctx.fill();
  ctx.lineWidth = 1; ctx.strokeStyle = stroke; ctx.stroke();
}
function arrow(ctx, x1, y1, x2, y2, color) {
  ctx.strokeStyle = color; ctx.fillStyle = color; ctx.lineWidth = 1.3;
  ctx.beginPath(); ctx.moveTo(x1, y1); ctx.lineTo(x2, y2); ctx.stroke();
  const ang = Math.atan2(y2 - y1, x2 - x1), L = 6, W = 3;
  ctx.beginPath();
  ctx.moveTo(x2, y2);
  ctx.lineTo(x2 - L * Math.cos(ang) + W * Math.sin(ang), y2 - L * Math.sin(ang) - W * Math.cos(ang));
  ctx.lineTo(x2 - L * Math.cos(ang) - W * Math.sin(ang), y2 - L * Math.sin(ang) + W * Math.cos(ang));
  ctx.closePath(); ctx.fill();
}

const maxPt = closeSeries.reduce((a, b) => (b[1] > a[1] ? b : a));
const minPt = closeSeries.reduce((a, b) => (b[1] < a[1] ? b : a));

const priceNotes = {
  id: 'priceNotes',
  afterDraw(chart) {
    const { ctx, scales: { x, y } } = chart;
    ctx.save();
    ctx.font = '8.5px ' + FONT;
    ctx.textBaseline = 'middle';
    const lx = x.getPixelForValue(lastDay) + 4;
    levels.forEach(l => {
      const py = y.getPixelForValue(l.value);
      const txt = l.name + ': ' + l.value;
      const w = ctx.measureText(txt).width + 8;
      roundBox(ctx, lx, py - 7, w, 14, 3, 'rgba(255,255,255,0.85)', l.text);
      ctx.fillStyle = l.text;
      ctx.fillText(txt, lx + 4, py + 0.5);
    });
    // extreme points
    const notes = [
      { p: maxPt, label: '最高点: ' + maxPt[1].toFixed(2), dx: 11, dy: -29, tail: [26, -10], head: [4, -2],
        fill: '#fde4e4', stroke: '#e33', color: '#c62020', arrowColor: '#a01010' },
      { p: minPt, label: '最低点: ' + minPt[1].toFixed(2), dx: 11, dy: 15, tail: [28, 14], head: [5, 2],
        fill: '#e3f2e3', stroke: '#2a9a2a', color: '#1c7a1c', arrowColor: '#106010' }
    ];
    notes.forEach(n => {
      const px = x.getPixelForValue(n.p[0]), py = y.getPixelForValue(n.p[1]);
      arrow(ctx, px + n.tail[0], py + n.tail[1], px + n.head[0], py + n.head[1], n.arrowColor);
      const w = ctx.measureText(n.label).width + 8;
      roundBox(ctx, px + n.dx, py + n.dy, w, 14, 3, n.fill, n.stroke);
      ctx.fillStyle = n.color;
      ctx.fillText(n.label, px + n.dx + 4, py + n.dy + 7.5);
    });
    ctx.restore();
  }
};

// ---------------- price chart ----------------
const priceDatasets = [
  { data: pts(closeSeries), borderWidth: 0, order: 100,
    fill: { target: { value: WEAK_LEVEL }, above: 'rgba(0,0,0,0)', below: 'rgba(255,0,0,0.07)' } },
  { data: pts(closeSeries), borderWidth: 0, order: 99,
    fill: { target: { value: STRONG_LEVEL }, above: 'rgba(40,150,40,0.09)', below: 'rgba(0,0,0,0)' } },
  { data: pts(bollUpperSeries), borderColor: 'rgba(120,120,120,0.6)', borderWidth: 0.8, borderDash: [3, 2],
    backgroundColor: 'rgba(128,128,128,0.1)', fill: '+1', order: 90 },
  { data: pts(bollLowerSeries), borderColor: 'rgba(120,120,120,0.6)', borderWidth: 0.8, borderDash: [3, 2], order: 89 }
];
levels.forEach(l => priceDatasets.push(
  { data: flat(l.value), borderColor: l.line, borderWidth: 1.4, borderDash: [6, 4], order: 80 }));
priceDatasets.push(
  { data: pts(ma20Series), borderColor: 'rgba(221,160,221,0.9)', borderWidth: 1, order: 70 },
  { data: pts(ma60Series), borderColor: 'rgba(214,39,40,0.8)', borderWidth: 1, order: 60 },
  { data: pts(ma20Series), borderColor: 'rgba(44,160,44,0.9)', borderWidth: 1, order: 50 },
  { data: pts(ma5Series), borderColor: 'rgba(255,127,14,0.8)', borderWidth: 0.9, order: 40 },
  { data: pts(closeSeries), borderColor: '#1f77b4', borderWidth: 2, order: 10 },
  { data: [{ x: maxPt[0], y: maxPt[1] }], showLine: false, pointRadius: 5, pointBackgroundColor: '#ee1111',
    pointBorderColor: '#ee1111', order: 1 },
  { data: [{ x: minPt[0], y: minPt[1] }], showLine: false, pointRadius: 5, pointBackgroundColor: '#118811',
    pointBorderColor: '#118811', order: 1 }
);
new Chart(document.getElementById('cPrice'), {
  type: 'line',
  data: { datasets: priceDatasets },
  options: baseOptions(37, {
    x: xAxis(false),
    y: yAxis(132.6, 176.03, [135, 140, 145, 150, 155, 160, 165, 170, 175])
  }, '#ffffff', '#7a7a7a'),
  plugins: [panelFrame, priceNotes]
});

// ---------------- volume chart ----------------
new Chart(document.getElementById('cVol'), {
  type: 'line',
  data: { datasets: [
    { data: pts(turnoverSeries), yAxisID: 'y2', borderWidth: 0, fill: 'origin',
      backgroundColor: 'rgba(128,0,128,0.08)', order: 100 },
    { type: 'bar', data: volumeBars.map(b => ({ x: b[0], y: b[1] })), yAxisID: 'y', grouped: false,
      barThickness: 3.2, borderWidth: 0, order: 50,
      backgroundColor: volumeBars.map(b => b[2] ? 'rgba(222,50,50,0.62)' : 'rgba(50,160,50,0.62)') },
    { data: flat(avgTurnover), yAxisID: 'y2', borderColor: 'rgba(200,110,200,0.8)', borderWidth: 1,
      borderDash: [4, 3], order: 20 },
    { data: pts(turnoverSeries), yAxisID: 'y2', borderColor: '#800080', borderWidth: 1.2, order: 10 }
  ] },
  options: baseOptions(0, {
    x: xAxis(false),
    y: yAxis(0, 1291, [0, 250, 500, 750, 1000, 1250], {
      ticks: { padding: 3, font: { size: 10 }, color: '#1f77b4', callback: v => v.toLocaleString('en-US') } }),
    y2: {
      type: 'linear', position: 'right', min: 0, max: 27.4,
      afterBuildTicks: s => { s.ticks = [0, 5, 10, 15, 20, 25].map(v => ({ value: v })); },
      afterFit: s => { s.width = 37; },
      ticks: { padding: 3, font: { size: 10 }, color: '#800080' },
      grid: { drawOnChartArea: false, tickLength: 4, tickColor: '#444' },
      border: { display: false }
    }
  }, '#fafafa'),
  plugins: [panelFrame]
});

// ---------------- MACD chart ----------------
new Chart(document.getElementById('cMacd'), {
  type: 'line',
  data: { datasets: [
    { type: 'bar', data: pts(histSeries), grouped: false, barThickness: 2.6, borderWidth: 0, order: 50,
      backgroundColor: histSeries.map(h => h[1] >= 0 ? 'rgba(222,50,50,0.5)' : 'rgba(50,160,50,0.55)') },
    { data: flat(0), borderColor: '#111', borderWidth: 1, order: 30 },
    { data: pts(signalSeries), borderColor: '#ff2020', borderWidth: 1.2, order: 20 },
    { data: pts(macdSeries), borderColor: '#1010ff', borderWidth: 1.2, order: 10 }
  ] },
  options: baseOptions(37, {
    x: xAxis(false),
    y: yAxis(-3.7, 5.23, [-2, 0, 2, 4])
  }, '#fafafa'),
  plugins: [panelFrame]
});

// ---------------- RSI chart ----------------
const rsiSpan = v => [{ x: rsiSeries[0][0], y: v }, { x: lastDay, y: v }];
new Chart(document.getElementById('cRsi'), {
  type: 'line',
  data: { datasets: [
    { data: rsiSpan(100), borderWidth: 0, fill: { target: { value: OVERBOUGHT } },
      backgroundColor: 'rgba(255,0,0,0.07)', order: 100 },
    { data: rsiSpan(OVERSOLD), borderWidth: 0, fill: { target: { value: 0 } },
      backgroundColor: 'rgba(0,128,0,0.06)', order: 99 },
    { data: flat(OVERBOUGHT), borderColor: 'rgba(240,60,60,0.75)', borderWidth: 1, borderDash: [4, 3], order: 30 },
    { data: flat(OVERSOLD), borderColor: 'rgba(40,150,40,0.75)', borderWidth: 1, borderDash: [4, 3], order: 30 },
    { data: pts(rsiSeries), borderColor: '#800080', borderWidth: 1.2, order: 10 }
  ] },
  options: baseOptions(37, {
    x: xAxis(true),
    y: yAxis(0, 100, [0, 20, 40, 60, 80, 100])
  }, '#fafafa'),
  plugins: [panelFrame]
});

// ---------------- HTML legends / info ----------------
function legend(id, items) {
  const box = document.getElementById(id);
  items.forEach(it => {
    const sw = document.createElement('div');
    sw.className = 'sw';
    sw.style.left = it.x + 'px';
    sw.style.width = (it.w || 17) + 'px';
    if (it.patch) {
      sw.style.top = (it.y - 4) + 'px'; sw.style.height = '8px';
      sw.style.background = it.patch; sw.style.border = '1px solid ' + (it.edge || 'rgba(0,0,0,0.08)');
      sw.style.boxSizing = 'border-box';
    } else {
      sw.style.top = (it.y - (it.lw || 1.5) / 2) + 'px'; sw.style.height = '0';
      sw.style.borderTop = (it.lw || 1.5) + 'px ' + (it.dash ? 'dashed ' : 'solid ') + it.line;
    }
    box.appendChild(sw);
    const tx = document.createElement('div');
    tx.className = 'tx';
    tx.style.left = (it.x + (it.w || 17) + 7) + 'px';
    tx.style.top = it.y + 'px';
    tx.textContent = it.label;
    box.appendChild(tx);
  });
}
legend('lgPrice', [
  { x: 3, y: 9, patch: 'rgba(128,128,128,0.15)', label: '布林带(20,2)' },
  { x: 3, y: 21.5, line: 'rgba(221,160,221,0.95)', lw: 1.2, label: 'BB中轨' },
  { x: 3, y: 33, line: '#1f77b4', lw: 2, label: '收盘价' },
  { x: 99, y: 9, line: 'rgba(255,127,14,0.85)', lw: 1, label: 'MA5' },
  { x: 99, y: 21, line: 'rgba(44,160,44,0.9)', lw: 1, label: 'MA20' },
  { x: 99, y: 33, line: 'rgba(214,39,40,0.85)', lw: 1.2, label: 'MA60' },
  { x: 160, y: 9, patch: 'rgba(40,150,40,0.09)', label: '强势区' },
  { x: 160, y: 21.5, patch: 'rgba(255,0,0,0.07)', label: '弱势区' }
]);
legend('lgVol', [
  { x: 3, y: 6.5, w: 16, patch: 'rgba(128,128,128,0.6)', edge: 'rgba(128,128,128,0.2)', label: '成交额' },
  { x: 64, y: 6.5, w: 17, line: '#800080', lw: 1.2, label: '换手率' },
  { x: 125, y: 6.5, w: 17, line: 'rgba(200,110,200,0.9)', lw: 1, dash: true, label: '平均换手: ' + avgTurnover.toFixed(2) + '%' }
]);
legend('lgMacd', [
  { x: 3, y: 6.5, w: 17, line: '#1010ff', lw: 1.2, label: 'MACD' },
  { x: 3, y: 16.5, w: 17, line: '#ff2020', lw: 1.2, label: 'Signal' }
]);
legend('lgRsi', [
  { x: 3, y: 7, w: 16, line: '#800080', lw: 1.2, label: 'RSI(14)' },
  { x: 3, y: 18, w: 16, line: 'rgba(240,60,60,0.8)', lw: 1, dash: true, label: '超买(70)' },
  { x: 3, y: 29, w: 16, line: 'rgba(40,150,40,0.8)', lw: 1, dash: true, label: '超卖(30)' }
]);
document.getElementById('info').innerHTML =
  'RSI: ' + rsiSeries[rsiSeries.length - 1][1].toFixed(1) + '<br>MACD: ' +
  macdSeries[macdSeries.length - 1][1].toFixed(2);
</script>
</body>
</html>
